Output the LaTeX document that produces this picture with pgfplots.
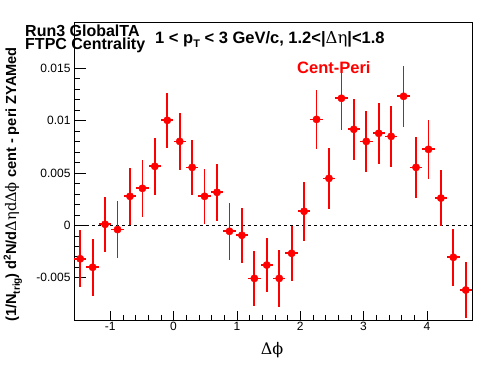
\documentclass[border=0pt]{standalone}
\usepackage{fontspec}
\setmainfont{Liberation Sans}
\newfontfamily\grk{DejaVu Serif}
\usepackage{pgfplots}
\usepackage{pgfplotstable}
\pgfplotsset{compat=1.18}
\definecolor{rootred}{RGB}{255,0,0}
\pgfplotstableread{
x y ex ey
-1.4726 -0.00319 0.09817 0.0027
-1.2763 -0.00400 0.09817 0.0027
-1.0799 0.00010 0.09817 0.0026
-0.8836 -0.00040 0.09817 0.0027
-0.6872 0.00277 0.09817 0.0027
-0.4909 0.00353 0.09817 0.0027
-0.2945 0.00563 0.09817 0.0027
-0.0982 0.01002 0.09817 0.0026
0.0982 0.00801 0.09817 0.0027
0.2945 0.00553 0.09817 0.0026
0.4909 0.00277 0.09817 0.0026
0.6872 0.00315 0.09817 0.0027
0.8836 -0.00057 0.09817 0.0027
1.0799 -0.00095 0.09817 0.0026
1.2763 -0.00506 0.09817 0.0026
1.4726 -0.00379 0.09817 0.0026
1.6690 -0.00506 0.09817 0.0027
1.8653 -0.00267 0.09817 0.0026
2.0617 0.00134 0.09817 0.0028
2.2580 0.01011 0.09817 0.0028
2.4544 0.00448 0.09817 0.0029
2.6507 0.01212 0.09817 0.0030
2.8471 0.00916 0.09817 0.0029
3.0434 0.00801 0.09817 0.0029
3.2398 0.00878 0.09817 0.0029
3.4361 0.00849 0.09817 0.0029
3.6325 0.01231 0.09817 0.0029
3.8288 0.00553 0.09817 0.0029
4.0252 0.00725 0.09817 0.0028
4.2215 0.00260 0.09817 0.0027
4.4179 -0.00305 0.09817 0.0027
4.6142 -0.00617 0.09817 0.0027
}\centperi
\begin{document}
\begin{tikzpicture}[x=1pt,y=1pt]
\useasboundingbox (0,0) rectangle (496,374);
\begin{axis}[
  at={(74pt,54pt)}, anchor=south west,
  scale only axis, width=398pt, height=298pt,
  xmin=-1.5708, xmax=4.7124,
  ymin=-0.00903, ymax=0.0194,
  axis line style={black, line width=0.8pt},
  tick align=inside, tick pos=left,
  xtick={-1,0,1,2,3,4},
  xticklabels={-1,0,1,2,3,4},
  minor x tick num=4,
  ytick={-0.005,0,0.005,0.01,0.015},
  yticklabels={-0.005,0,0.005,0.01,0.015},
  minor y tick num=4,
  scaled y ticks=false,
  xtick style={black, line width=0.6pt, /pgfplots/major tick length=9pt, /pgfplots/minor tick length=4.5pt},
  ytick style={black, line width=0.6pt, /pgfplots/major tick length=12pt, /pgfplots/minor tick length=6pt},
  tick label style={font=\fontsize{12pt}{14pt}\selectfont},
  xticklabel style={yshift=1pt},
  clip=false,
]
\addplot[black, line width=0.7pt, dash pattern=on 3pt off 3pt] coordinates {(-1.5708,0) (4.7124,0)};
\addplot[only marks, mark=*, mark size=3.7pt, color=rootred, mark options={fill=rootred, draw=rootred},
  error bars/.cd, x dir=both, x explicit, y dir=both, y explicit,
  error mark=none, error bar style={rootred, line width=1.7pt}]
  table[x=x, y=y, x error=ex, y error=ey] {\centperi};
\end{axis}
\node[anchor=base west, font=\fontsize{16pt}{18pt}\selectfont\bfseries, inner sep=0] at (25,337) {Run3 GlobalTA};
\node[anchor=base west, font=\fontsize{16pt}{18pt}\selectfont\bfseries, inner sep=0] at (25,324) {FTPC Centrality};
\node[anchor=base west, font=\fontsize{16.5pt}{18pt}\selectfont\bfseries, inner sep=0] at (155,330) {1 < p\raisebox{-0.45ex}{\fontsize{11pt}{12pt}\selectfont T} < 3 GeV/c, 1.2<|{\grk\mdseries Δη}|<1.8};
\node[anchor=base west, font=\fontsize{16.5pt}{18pt}\selectfont\bfseries, text=rootred, inner sep=0] at (297,300) {Cent-Peri};
\node[anchor=base, font=\fontsize{16pt}{18pt}\selectfont, inner sep=0] at (272,19) {{\grk Δϕ}};
\node[anchor=base west, rotate=90, font=\fontsize{14.6pt}{16pt}\selectfont\bfseries, inner sep=0] at (16,52) {(1/N\raisebox{-0.5ex}{\fontsize{10pt}{12pt}\selectfont trig}) d\raisebox{0.7ex}{\fontsize{10pt}{12pt}\selectfont 2}N/d{\grk\mdseries ΔηdΔϕ} cent - peri ZYAMed};
\end{tikzpicture}
\end{document}
